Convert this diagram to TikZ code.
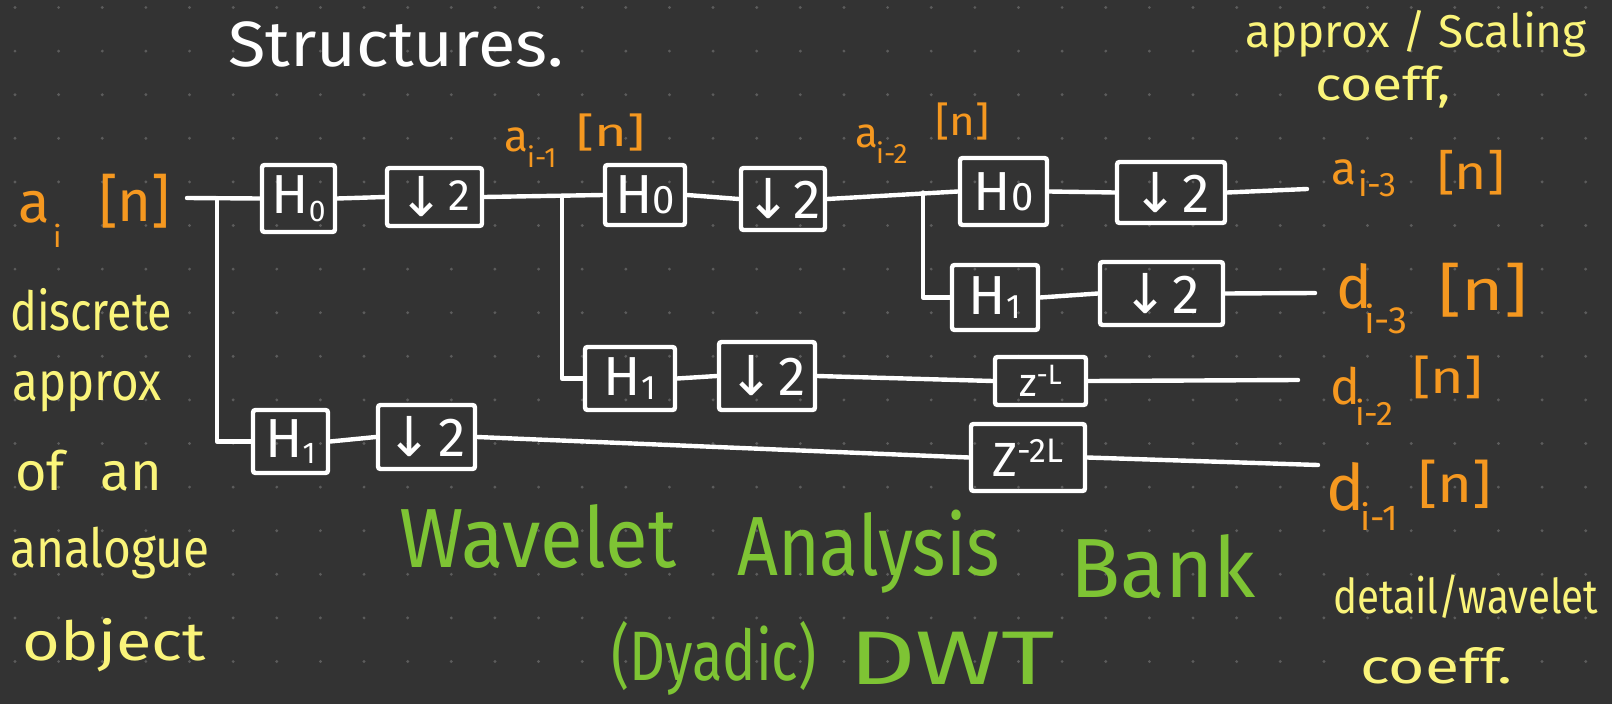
\documentclass[tikz,border=0pt]{standalone}
\usepackage{fontspec}
\setmainfont{Fira Sans}
\newfontfamily\symfont{DejaVu Sans}
\definecolor{board}{RGB}{51,51,51}
\definecolor{griddot}{RGB}{92,92,92}
\definecolor{ink}{RGB}{255,255,255}
\definecolor{sigcol}{RGB}{245,152,32}
\definecolor{notecol}{RGB}{250,244,122}
\definecolor{headcol}{RGB}{126,196,52}
\newcommand\fs[1]{\fontsize{#1}{#1}\selectfont}
% lowered / raised small text: drop (pt), size (pt), text
\newcommand\lo[3]{\raisebox{-#1pt}{\fs{#2}#3}}
\newcommand\hi[3]{\raisebox{#1pt}{\fs{#2}#3}}
% horizontal stretch of a word
\newcommand\sx[2]{\scalebox{#1}[1]{#2}}
\newcommand\dn{{\symfont ↓}}

\begin{document}
\begin{tikzpicture}[x=1pt,y=-1pt,
  blk/.style={draw=ink, line width=4.4pt, rounded corners=2.5pt, inner sep=0pt,
              text=ink, font=\fs{55}},
  wire/.style={draw=ink, line width=4.4pt, line cap=round, line join=round},
  txt/.style={inner sep=0pt, anchor=base west},
  sig/.style={txt, text=sigcol},
  note/.style={txt, text=notecol},
  head/.style={txt, text=headcol},
  ttl/.style={txt, text=ink}]

\useasboundingbox (0,0) rectangle (1612,704);
\fill[board] (0,0) rectangle (1612,704);
% dotted paper
\foreach \i in {0,...,36}
  \foreach \j in {0,...,15}
    \fill[griddot] ({15+43.63*\i},{7.5+43.6*\j}) circle (1.6pt);

% ---------- filter blocks ----------
% level 1
\node[blk, minimum width=73pt,  minimum height=67pt] (H0a) at (298.5,198.5) {H\lo{8}{30}{0}};
\node[blk, minimum width=95pt,  minimum height=58pt] (D2a) at (434.5,197)   {\dn\kern4pt\hi{6}{44}{2}};
\node[blk, minimum width=75pt,  minimum height=63pt] (H1a) at (290.5,441.5) {H\lo{6}{30}{1}};
\node[blk, minimum width=97pt,  minimum height=64pt] (D2f) at (426.5,437)   {\dn\kern6pt 2};
% level 2
\node[blk, minimum width=80pt,  minimum height=60pt] (H0b) at (645,195)     {H\lo{0}{40}{0}};
\node[blk, minimum width=84pt,  minimum height=62pt] (D2b) at (783,199)     {\dn\kern2pt 2};
\node[blk, minimum width=90pt,  minimum height=63pt] (H1b) at (630,378.5)   {H\lo{4}{34}{1}};
\node[blk, minimum width=96pt,  minimum height=68pt] (D2e) at (767,376)     {\dn\kern4pt 2};
% level 3
\node[blk, minimum width=87pt,  minimum height=67pt] (H0c) at (1003.5,191.5) {H\lo{0}{40}{0}};
\node[blk, minimum width=108pt, minimum height=61pt] (D2c) at (1171,192.5)   {\dn\kern4pt 2};
\node[blk, minimum width=86pt,  minimum height=65pt] (H1c) at (995,297.5)    {H\lo{4}{34}{1}};
\node[blk, minimum width=123pt, minimum height=63pt] (D2d) at (1161.5,293.5) {\dn\kern4pt 2};
% delays
\node[blk, minimum width=91pt,  minimum height=48pt, font=\fs{40}] (ZL)  at (1040.5,381) {z\hi{12}{28}{-L}};
\node[blk, minimum width=114pt, minimum height=67pt, font=\fs{48}] (Z2L) at (1028,457.5) {Z\hi{14}{34}{-2L}};

% ---------- connections ----------
\coordinate (in)  at (187,198);
\coordinate (s1)  at (217,198);
\coordinate (s2)  at (562,196);
\coordinate (s3)  at (923,192.5);
\coordinate (oa3) at (1307,189);
\coordinate (od3) at (1315,293);
\coordinate (od2) at (1298,380);
\coordinate (od1) at (1318,465);

\draw[wire] (in) -- (H0a.west);
\draw[wire] (s1) |- (H1a.west);
\draw[wire] (H0a.east) -- (D2a.west);
\draw[wire] (D2a.east) -- (H0b.west);
\draw[wire] (s2) |- (H1b.west);
\draw[wire] (H0b.east) -- (D2b.west);
\draw[wire] (D2b.east) -- (H0c.west);
\draw[wire] (s3) |- (H1c.west);
\draw[wire] (H0c.east) -- (D2c.west);
\draw[wire] (D2c.east) -- (oa3);
\draw[wire] (H1c.east) -- (D2d.west);
\draw[wire] (D2d.east) -- (od3);
\draw[wire] (H1b.east) -- (D2e.west);
\draw[wire] (D2e.east) -- (ZL.west);
\draw[wire] (ZL.east) -- (od2);
\draw[wire] (H1a.east) -- (D2f.west);
\draw[wire] (D2f.east) -- (Z2L.west);
\draw[wire] (Z2L.east) -- (od1);

% ---------- signal names ----------
\node[sig, font=\fs{58}] (ai)   at (18,222)  {a};
\node[sig, font=\fs{30}] (ai-s) at (53,247)  {i};
\node[sig, font=\fs{58}] (ai-n) at (99,221)  {[n]};

\node[sig, font=\fs{44}] (a1)   at (504,151) {a};
\node[sig, font=\fs{28}] (a1-s) at (527,167) {i-1};
\node[sig, font=\fs{40}] (a1-n) at (576,146) {\sx{1.4}{[n]}};

\node[sig, font=\fs{42}] (a2)   at (855,147) {a};
\node[sig, font=\fs{28}] (a2-s) at (876,163) {i-2};
\node[sig, font=\fs{40}] (a2-n) at (935,135) {\sx{1.1}{[n]}};

\node[sig, font=\fs{46}] (a3)   at (1331,184) {a};
\node[sig, font=\fs{34}] (a3-s) at (1358,196) {i-3};
\node[sig, font=\fs{48}] (a3-n) at (1437,189) {\sx{1.15}{[n]}};

\node[sig, font=\fs{60}] (d3)   at (1336,308) {d};
\node[sig, font=\fs{38}] (d3-s) at (1364,333) {i-3};
\node[sig, font=\fs{58}] (d3-n) at (1438,310) {\sx{1.25}{[n]}};

\node[sig, font=\fs{50}] (d2)   at (1330,404) {d};
\node[sig, font=\fs{34}] (d2-s) at (1355,425) {i-2};
\node[sig, font=\fs{46}] (d2-n) at (1412,393) {\sx{1.25}{[n]}};

\node[sig, font=\fs{64}] (d1)   at (1326,510) {d};
\node[sig, font=\fs{36}] (d1-s) at (1360,530) {i-1};
\node[sig, font=\fs{52}] (d1-n) at (1418,502) {\sx{1.15}{[n]}};

% ---------- notes ----------
\node[ttl, font=\fs{64}] (title) at (228,66) {\sx{1.07}{Structures.}};

\node[note, font=\fs{46}] (apx)  at (1245,47)  {approx / Scaling};
\node[note, font=\fs{46}] (apx2) at (1315,100) {\sx{1.2}{coeff,}};

\node[note, font=\fs{54}] (l1) at (10,330) {\sx{0.83}{discrete}};
\node[note, font=\fs{54}] (l2) at (12,400) {\sx{0.88}{approx}};
\node[note, font=\fs{54}] (l3) at (15,490) {of\hspace{36pt}an};
\node[note, font=\fs{54}] (l4) at (10,567) {\sx{0.885}{analogue}};
\node[note, font=\fs{54}] (l5) at (22,660) {\sx{1.2}{object}};

\node[note, font=\fs{48}] (det)  at (1333,613) {\sx{0.84}{detail/wavelet}};
\node[note, font=\fs{48}] (det2) at (1360,683) {\sx{1.3}{coeff.}};

\node[head, font=\fs{84}] (h1) at (399,567) {\sx{0.93}{Wavelet}};
\node[head, font=\fs{84}] (h2) at (737,575) {\sx{0.85}{Analysis}};
\node[head, font=\fs{84}] (h3) at (1070,597) {\sx{0.98}{Bank}};
\node[head, font=\fs{70}] (h4) at (611,680) {\sx{0.8}{(Dyadic)}};
\node[head, font=\fs{76}] (h5) at (849,684) {\sx{1.36}{DWT}};
\end{tikzpicture}
\end{document}
